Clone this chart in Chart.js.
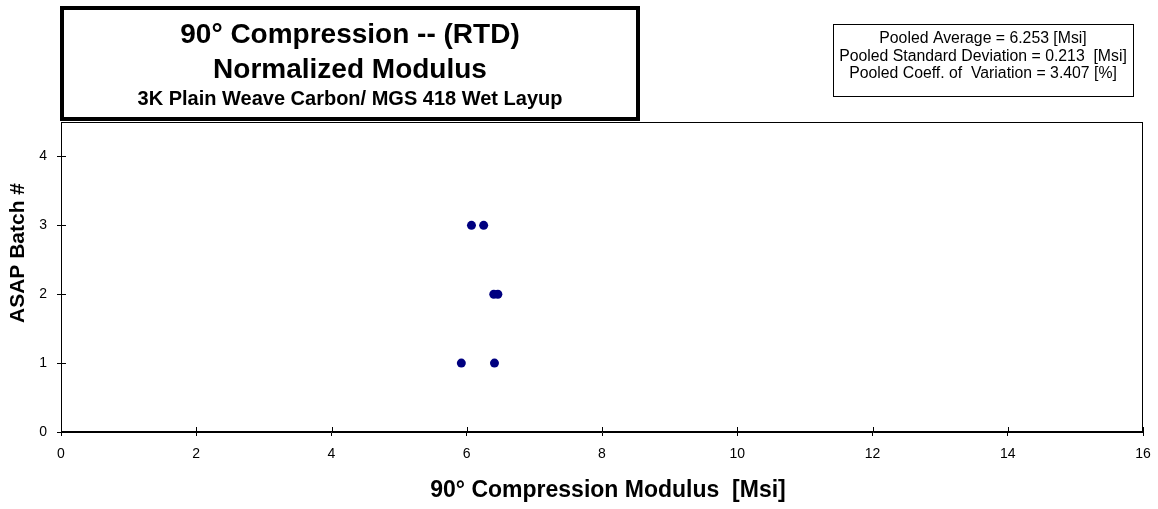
<!DOCTYPE html>
<html><head><meta charset="utf-8">
<script src="https://cdn.jsdelivr.net/npm/chart.js@4"></script>
<style>html,body{margin:0;padding:0;background:#fff;} #wrap{width:1158px;height:509px;position:relative;}</style>
</head><body><div id="wrap"><canvas id="c" width="1158" height="509"></canvas></div>
<script>
const batchNumbers = [1, 2, 3];
const batch1Modulus = [5.92, 6.41];
const batch2Modulus = [6.40, 6.46];
const batch3Modulus = [6.07, 6.25];
const xTickValues = [0, 2, 4, 6, 8, 10, 12, 14, 16];
const yTickValues = [0, 1, 2, 3, 4];
const titleLines = ['90° Compression -- (RTD)', 'Normalized Modulus', '3K Plain Weave Carbon/ MGS 418 Wet Layup'];
const statsLines = ['Pooled Average = 6.253 [Msi]', 'Pooled Standard Deviation = 0.213  [Msi]', 'Pooled Coeff. of  Variation = 3.407 [%]'];
const xAxisTitle = '90° Compression Modulus  [Msi]';
const yAxisTitle = 'ASAP Batch #';

const FONT = '"Liberation Sans", Arial, sans-serif';
const batchValues = [batch1Modulus, batch2Modulus, batch3Modulus];
const points = [];
batchNumbers.forEach((b, i) => batchValues[i].forEach(v => points.push({x: v, y: b})));

const decor = {
  id: 'decor',
  afterDraw(chart) {
    const ctx = chart.ctx;
    const a = chart.chartArea;
    const xs = chart.scales.x, ys = chart.scales.y;
    ctx.save();
    ctx.strokeStyle = '#000';
    ctx.lineWidth = 1;
    // plot frame
    ctx.strokeRect(Math.round(a.left) + 0.5, Math.round(a.top) + 0.5, Math.round(a.right - a.left) - 1, Math.round(a.bottom - a.top) - 1);
    // inner tick halves
    ctx.beginPath();
    xTickValues.forEach(v => {
      const px = Math.round(xs.getPixelForValue(v)) + 0.5;
      ctx.moveTo(px, a.bottom); ctx.lineTo(px, a.bottom - 5);
    });
    yTickValues.forEach(v => {
      const py = Math.round(ys.getPixelForValue(v)) + 0.5;
      ctx.moveTo(a.left, py); ctx.lineTo(a.left + 5, py);
    });
    ctx.stroke();

    // title box
    ctx.lineWidth = 4;
    ctx.strokeRect(62, 8, 576, 111);
    ctx.fillStyle = '#000';
    ctx.textAlign = 'center';
    ctx.textBaseline = 'alphabetic';
    ctx.font = 'bold 28px ' + FONT;
    ctx.fillText(titleLines[0], 350, 43);
    ctx.fillText(titleLines[1], 350, 78);
    ctx.font = 'bold 20px ' + FONT;
    ctx.fillText(titleLines[2], 350, 105);

    // stats box
    ctx.lineWidth = 1;
    ctx.strokeRect(833.5, 24.5, 300, 72);
    ctx.font = '15.8px ' + FONT;
    ctx.textBaseline = 'middle';
    ctx.fillText(statsLines[0], 983, 39);
    ctx.fillText(statsLines[1], 983, 56.5);
    ctx.fillText(statsLines[2], 983, 74);

    // axis titles
    ctx.font = 'bold 23px ' + FONT;
    ctx.fillText(xAxisTitle, 608, 491);
    ctx.save();
    ctx.translate(18, 253);
    ctx.rotate(-Math.PI / 2);
    ctx.font = 'bold 21px ' + FONT;
    ctx.fillText(yAxisTitle, 0, 0);
    ctx.restore();
    ctx.restore();
  }
};

new Chart(document.getElementById('c'), {
  type: 'scatter',
  data: {
    datasets: [{
      label: 'Modulus',
      data: points,
      backgroundColor: '#000080',
      borderColor: '#000080',
      pointRadius: 4.5,
      pointHoverRadius: 4.5,
      borderWidth: 0
    }]
  },
  options: {
    responsive: false,
    animation: false,
    devicePixelRatio: 1,
    layout: { padding: { top: 122, right: 15, left: 0, bottom: 0 } },
    plugins: { legend: { display: false }, tooltip: { enabled: false }, title: { display: false } },
    scales: {
      x: {
        type: 'linear', min: 0, max: 16,
        afterBuildTicks: s => { s.ticks = xTickValues.map(v => ({value: v})); },
        afterFit: s => { s.height = 77; s.paddingLeft = 0; s.paddingRight = 0; },
        grid: { display: true, drawOnChartArea: false, drawTicks: true, tickLength: 4, color: '#000', lineWidth: 1 },
        border: { display: true, color: '#000', width: 1 },
        ticks: { color: '#000', font: { family: FONT, size: 14 }, padding: 10, maxRotation: 0 }
      },
      y: {
        type: 'linear', min: 0, max: 4.5,
        afterBuildTicks: s => { s.ticks = yTickValues.map(v => ({value: v})); },
        afterFit: s => { s.width = 61; s.paddingTop = 0; s.paddingBottom = 0; },
        grid: { display: true, drawOnChartArea: false, drawTicks: true, tickLength: 4, color: '#000', lineWidth: 1 },
        border: { display: true, color: '#000', width: 1 },
        ticks: { color: '#000', font: { family: FONT, size: 14 }, padding: 10 }
      }
    }
  },
  plugins: [decor]
});
</script>
</body></html>
